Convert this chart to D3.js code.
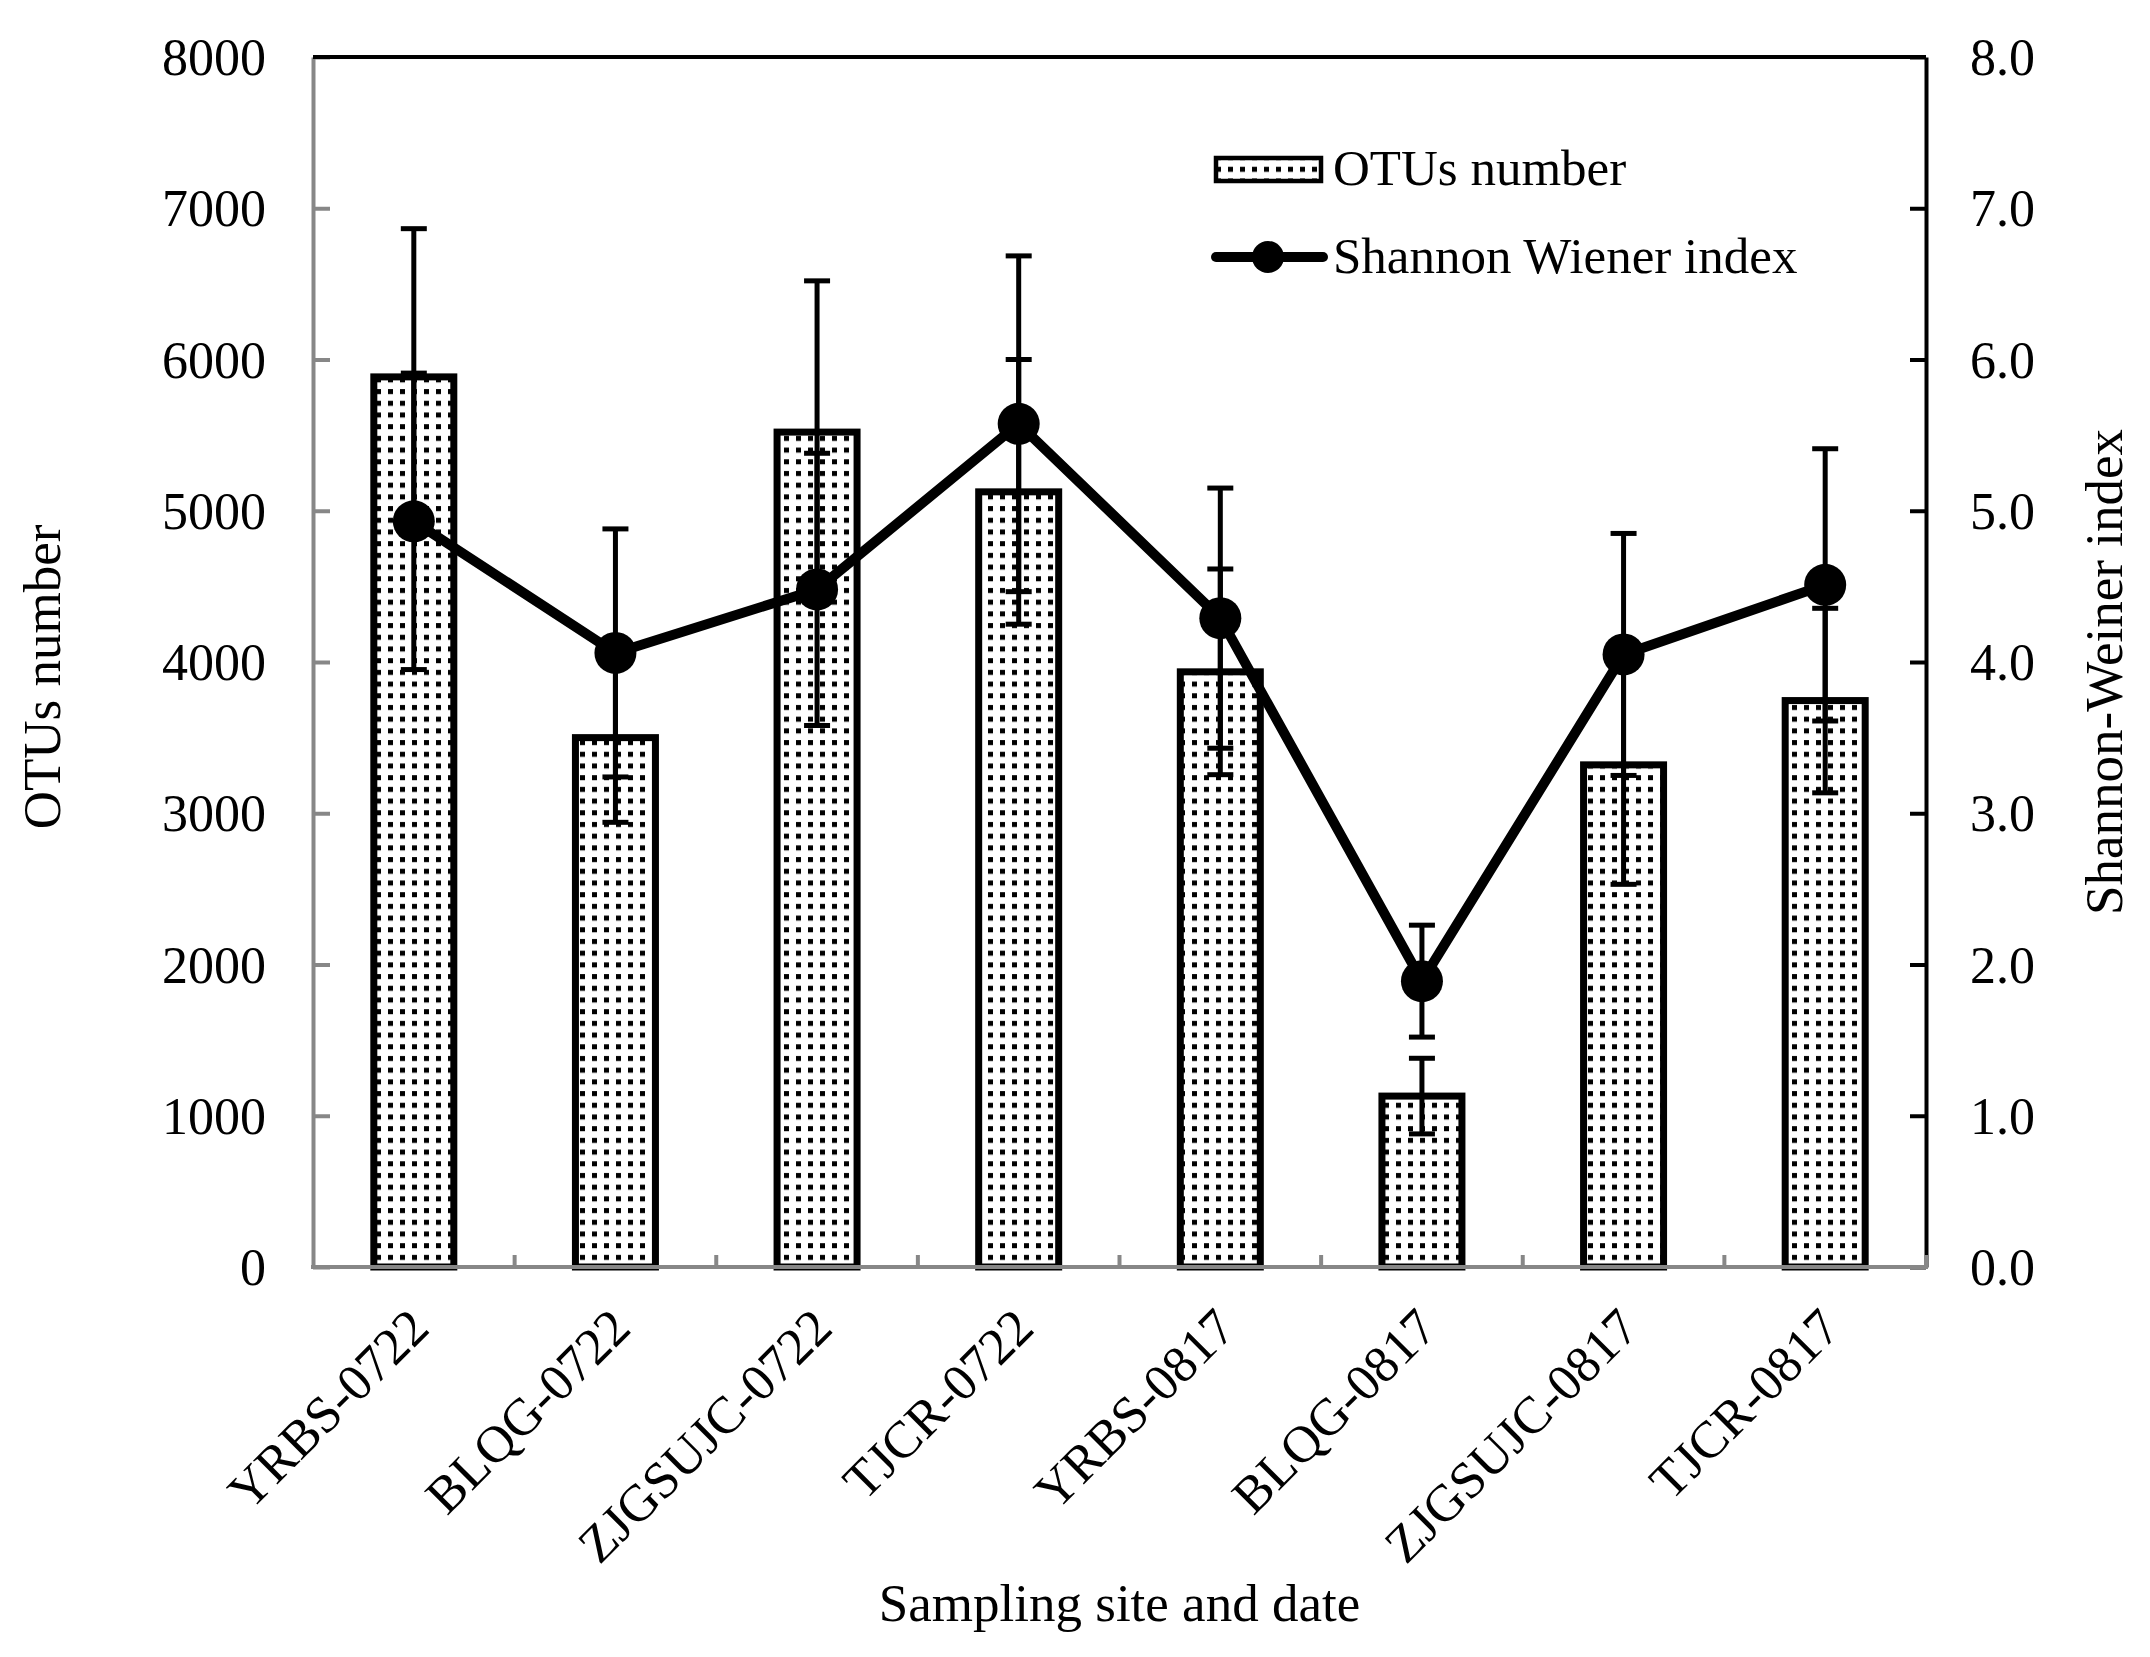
<!DOCTYPE html>
<html>
<head>
<meta charset="utf-8">
<script src="https://cdn.jsdelivr.net/npm/d3@7"></script>
<style>
  body { margin: 0; background: #fff; }
  svg text { font-family: "Times New Roman", "Liberation Serif", serif; fill: #000; }
</style>
</head>
<body>
<div id="chart"></div>
<script>
// data
const sites = ["YRBS-0722", "BLQG-0722", "ZJGSUJC-0722", "TJCR-0722",
               "YRBS-0817", "BLQG-0817", "ZJGSUJC-0817", "TJCR-0817"]
const otus = [5885, 3500, 5520, 5125, 3935, 1130, 3320, 3745]
const otusSd = [980, 560, 1000, 875, 680, 250, 790, 610]
const shannon = [4.93, 4.06, 4.48, 5.575, 4.29, 1.89, 4.05, 4.51]
const shannonSd = [0.98, 0.82, 0.90, 1.11, 0.86, 0.37, 0.80, 0.90]
const leftTicks = [0, 1000, 2000, 3000, 4000, 5000, 6000, 7000, 8000]
const rightTicks = [0, 1, 2, 3, 4, 5, 6, 7, 8]

const width = 2150
const height = 1657
const grey = "#878787"

const plot = { left: 313, right: 1926, top: 57, bottom: 1267 }

const svg = d3.select("#chart")
  .append("svg")
  .attr("width", width)
  .attr("height", height)

// dotted fill like the excel pattern
const defs = svg.append("defs")
const pat = defs.append("pattern")
  .attr("id", "dots")
  .attr("patternUnits", "userSpaceOnUse")
  .attr("width", 12)
  .attr("height", 11.7)
pat.append("rect").attr("width", 12).attr("height", 11.7).attr("fill", "#fff")
pat.append("rect").attr("x", 4).attr("y", 3).attr("width", 5).attr("height", 5).attr("fill", "#000")

const x = d3.scaleBand()
  .domain(sites)
  .range([plot.left, plot.right])
  .padding(0)

const yL = d3.scaleLinear().domain([0, 8000]).range([plot.bottom, plot.top])
const yR = d3.scaleLinear().domain([0, 8]).range([plot.bottom, plot.top])

const cx = d => x(d) + x.bandwidth() / 2
const barW = 80

// bars
svg.append("g")
  .selectAll("rect")
  .data(sites)
  .enter()
  .append("rect")
  .attr("x", d => cx(d) - barW / 2)
  .attr("y", (d, i) => yL(otus[i]))
  .attr("width", barW)
  .attr("height", (d, i) => yL(0) - yL(otus[i]))
  .attr("fill", "url(#dots)")
  .attr("stroke", "#000")
  .attr("stroke-width", 7)

function errorBars(g, vals, sds, scale) {
  const eb = g.append("g")
    .attr("stroke", "#000")
    .attr("stroke-width", 5)
    .selectAll("g")
    .data(sites)
    .enter()
    .append("g")
  eb.append("line")
    .attr("x1", d => cx(d)).attr("x2", d => cx(d))
    .attr("y1", (d, i) => scale(vals[i] + sds[i]))
    .attr("y2", (d, i) => scale(vals[i] - sds[i]))
  eb.append("line")
    .attr("x1", d => cx(d) - 13).attr("x2", d => cx(d) + 13)
    .attr("y1", (d, i) => scale(vals[i] + sds[i]))
    .attr("y2", (d, i) => scale(vals[i] + sds[i]))
  eb.append("line")
    .attr("x1", d => cx(d) - 13).attr("x2", d => cx(d) + 13)
    .attr("y1", (d, i) => scale(vals[i] - sds[i]))
    .attr("y2", (d, i) => scale(vals[i] - sds[i]))
}

errorBars(svg, otus, otusSd, yL)

// axes
const gLeft = svg.append("g")
  .attr("transform", `translate(${plot.left},0)`)
  .call(d3.axisLeft(yL).tickValues(leftTicks).tickFormat(d3.format("d"))
    .tickSizeInner(-17).tickSizeOuter(0).tickPadding(47))
gLeft.select(".domain").attr("stroke", grey).attr("stroke-width", 4)
gLeft.selectAll(".tick line").attr("stroke", grey).attr("stroke-width", 4)
gLeft.selectAll(".tick text").attr("font-size", 52).attr("dy", "0.34em")

const gRight = svg.append("g")
  .attr("transform", `translate(${plot.right},0)`)
  .call(d3.axisRight(yR).tickValues(rightTicks).tickFormat(d3.format(".1f"))
    .tickSizeInner(-16).tickSizeOuter(0).tickPadding(44))
gRight.select(".domain").attr("stroke", "#000").attr("stroke-width", 4)
gRight.selectAll(".tick line").attr("stroke", "#000").attr("stroke-width", 4)
gRight.selectAll(".tick text").attr("font-size", 52).attr("dy", "0.34em")

// top frame line
svg.append("line")
  .attr("x1", plot.left).attr("x2", plot.right)
  .attr("y1", plot.top).attr("y2", plot.top)
  .attr("stroke", "#000").attr("stroke-width", 4)

// bottom axis, ticks between categories
const bounds = sites.map(d => x(d)).concat([plot.right])
const gBottom = svg.append("g")
gBottom.append("line")
  .attr("x1", plot.left - 2).attr("x2", plot.right + 2)
  .attr("y1", plot.bottom).attr("y2", plot.bottom)
  .attr("stroke", grey).attr("stroke-width", 4)
gBottom.selectAll("line.tk")
  .data(bounds.slice(1))
  .enter()
  .append("line")
  .attr("class", "tk")
  .attr("x1", d => d).attr("x2", d => d)
  .attr("y1", plot.bottom).attr("y2", plot.bottom - 12)
  .attr("stroke", grey).attr("stroke-width", 4)

gBottom.selectAll("text")
  .data(sites)
  .enter()
  .append("text")
  .attr("transform", d => `translate(${cx(d) + 5},${1318}) rotate(-45)`)
  .attr("text-anchor", "end")
  .attr("dy", "0.34em")
  .attr("font-size", 52)
  .text(d => d)

// shannon line
const line = d3.line()
  .x((d, i) => cx(sites[i]))
  .y(d => yR(d))

svg.append("path")
  .datum(shannon)
  .attr("d", line)
  .attr("fill", "none")
  .attr("stroke", "#000")
  .attr("stroke-width", 10)
  .attr("stroke-linejoin", "round")

svg.append("g")
  .selectAll("circle")
  .data(shannon)
  .enter()
  .append("circle")
  .attr("cx", (d, i) => cx(sites[i]))
  .attr("cy", d => yR(d))
  .attr("r", 21)
  .attr("fill", "#000")

errorBars(svg, shannon, shannonSd, yR)

// axis titles
svg.append("text")
  .attr("transform", `translate(60,677) rotate(-90)`)
  .attr("text-anchor", "middle")
  .attr("font-size", 53)
  .text("OTUs number")

svg.append("text")
  .attr("transform", `translate(2122,672) rotate(-90)`)
  .attr("text-anchor", "middle")
  .attr("font-size", 53)
  .text("Shannon-Weiner index")

svg.append("text")
  .attr("x", (plot.left + plot.right) / 2)
  .attr("y", 1621)
  .attr("text-anchor", "middle")
  .attr("font-size", 53)
  .text("Sampling site and date")

// legend
const legend = svg.append("g")
legend.append("rect")
  .attr("x", 1216).attr("y", 158)
  .attr("width", 105).attr("height", 23)
  .attr("fill", "url(#dots)")
  .attr("stroke", "#000")
  .attr("stroke-width", 4.5)
legend.append("text")
  .attr("x", 1333).attr("y", 185)
  .attr("font-size", 51)
  .text("OTUs number")
legend.append("line")
  .attr("x1", 1216).attr("x2", 1323)
  .attr("y1", 257).attr("y2", 257)
  .attr("stroke", "#000").attr("stroke-width", 10)
  .attr("stroke-linecap", "round")
legend.append("circle")
  .attr("cx", 1268).attr("cy", 257).attr("r", 16)
  .attr("fill", "#000")
legend.append("text")
  .attr("x", 1333).attr("y", 273)
  .attr("font-size", 51)
  .text("Shannon Wiener index")
</script>
</body>
</html>
